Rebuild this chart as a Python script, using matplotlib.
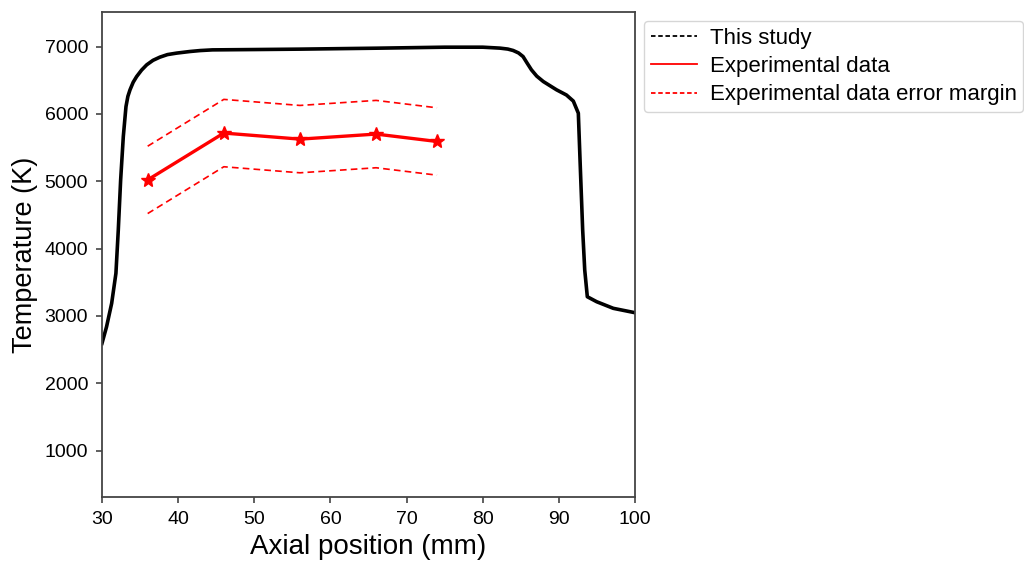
import matplotlib
matplotlib.use("Agg")
import matplotlib.pyplot as plt
from matplotlib.lines import Line2D

plt.rcParams['font.family'] = ['Liberation Sans', 'DejaVu Sans']

# simulated axial temperature profile
sim_x = [30.0, 30.6, 31.27, 31.83, 32.14, 32.45, 32.8, 33.15, 33.4, 33.68,
         34.1, 34.55, 35.2, 35.87, 36.7, 37.6, 38.6, 39.8, 41.56, 42.9,
         44.5, 50.0, 56.0, 66.0, 75.0, 80.0, 82.27, 83.3, 84.0, 84.7,
         85.3, 85.8, 86.4, 87.1, 87.96, 89.7, 91.0, 91.9, 92.56, 92.8,
         93.13, 93.4, 93.74, 94.97, 97.15, 100.0]
sim_T = [2593, 2840, 3187, 3633, 4276, 5019, 5663, 6108, 6260, 6357,
         6470, 6554, 6650, 6728, 6795, 6842, 6880, 6902, 6926, 6940,
         6950, 6955, 6961, 6975, 6990, 6990, 6976, 6962, 6941, 6905,
         6851, 6760, 6654, 6560, 6480, 6357, 6280, 6190, 6010, 5267,
         4276, 3682, 3285, 3211, 3113, 3048]

# experimental measurements
exp_x = [36, 46, 56, 66, 74]
exp_T = [5020, 5715, 5625, 5700, 5590]
exp_err = [500, 500, 500, 500, 500]

fig = plt.figure(figsize=(10.24, 5.63), dpi=100)
ax = fig.add_axes([0.0996, 0.117, 0.5205, 0.862])

ax.plot(sim_x, sim_T, color='black', lw=2.6)
ax.plot(exp_x, exp_T, color='red', lw=2.4, marker='*', markersize=10)
upper = [t + e for t, e in zip(exp_T, exp_err)]
lower = [t - e for t, e in zip(exp_T, exp_err)]
ax.plot(exp_x, upper, color='red', lw=1.2, ls=(0, (4, 2.5)))
ax.plot(exp_x, lower, color='red', lw=1.2, ls=(0, (4, 2.5)))

ax.set_xlim(30, 100)
ax.set_ylim(310, 7515)
ax.set_xticks([30, 40, 50, 60, 70, 80, 90, 100])
ax.set_yticks([1000, 2000, 3000, 4000, 5000, 6000, 7000])

for sp in ax.spines.values():
    sp.set_color('#444444')
    sp.set_linewidth(1.3)
ax.tick_params(axis='both', labelsize=14, colors='#444444', labelcolor='black',
               length=4, width=1.2)
ax.tick_params(axis='y', pad=6)
ax.tick_params(axis='x', pad=6)

ax.set_xlabel('Axial position (mm)', fontsize=20, labelpad=4)
ax.set_ylabel('Temperature (K)', fontsize=19.5, labelpad=5)

# legend handles as drawn in the reference (note: "This study" shown dashed)
handles = [
    Line2D([], [], color='black', lw=1.3, ls=(0, (2.5, 1.5))),
    Line2D([], [], color='red', lw=1.3),
    Line2D([], [], color='red', lw=1.3, ls=(0, (2.5, 1.5))),
]
labels = ['This study', 'Experimental data', 'Experimental data error margin']
ax.legend(handles, labels, loc='upper left', bbox_to_anchor=(1.017, 0.981),
          fontsize=16, frameon=True, edgecolor='#cccccc', handlelength=2.1,
          handletextpad=0.55, borderpad=0.3, labelspacing=0.33,
          borderaxespad=0)

fig.savefig('out.png', dpi=100)
